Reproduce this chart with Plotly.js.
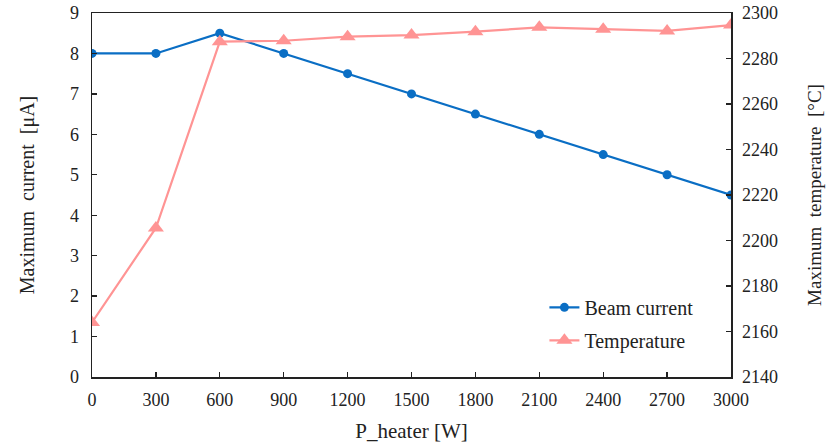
<!DOCTYPE html>
<html>
<head>
<meta charset="utf-8">
<script src="https://cdn.plot.ly/plotly-3.0.1.min.js"></script>
<style>html,body{margin:0;padding:0;background:#fff;}#chart{width:829px;height:444px;}</style>
</head>
<body>
<div id="chart"></div>
<script>
const pHeater = [0, 300, 600, 900, 1200, 1500, 1800, 2100, 2400, 2700, 3000];
const beamCurrent = [8, 8, 8.5, 8, 7.5, 7, 6.5, 6, 5.5, 5, 4.5];
const temperature = [2164, 2205.5, 2287.4, 2287.8, 2289.6, 2290.3, 2291.8, 2293.7, 2292.9, 2292.1, 2294.7];
const xTicks = [0, 300, 600, 900, 1200, 1500, 1800, 2100, 2400, 2700, 3000];

const FAMILY = 'Liberation Serif';
const f = (s) => ({family: FAMILY, size: s, color: '#222'});

const traces = [
  {
    x: pHeater, y: beamCurrent, name: 'Beam current', type: 'scatter', mode: 'lines+markers',
    legendgroup: 'a',
    line: {color: '#0A6EC4', width: 2.2},
    marker: {color: '#0A6EC4', size: 9, symbol: 'circle'},
    yaxis: 'y'
  },
  {
    x: pHeater, y: temperature, name: 'Temperature', type: 'scatter', mode: 'lines+markers',
    legendgroup: 'b',
    line: {color: '#FF9494', width: 2.2},
    marker: {color: '#FF9494', size: 14, symbol: 'triangle-up'},
    yaxis: 'y2'
  }
];

function axis(extra) {
  return Object.assign({
    showgrid: false, zeroline: false, showline: true, linecolor: '#222', linewidth: 1.5,
    ticks: 'inside', ticklen: 5, tickwidth: 1.3, tickcolor: '#222',
    tickfont: f(18), ticklabelstandoff: 8
  }, extra);
}

const layout = {
  width: 829, height: 444,
  margin: {l: 92, r: 98, t: 13, b: 67},
  paper_bgcolor: '#fff', plot_bgcolor: '#fff',
  font: f(18),
  showlegend: true,
  legend: {x: 0.708, y: 0.245, xanchor: 'left', yanchor: 'top', bgcolor: 'rgba(0,0,0,0)',
           font: f(20), tracegroupgap: 4},
  xaxis: axis({
    range: [0, 3000], tickvals: xTicks, ticktext: xTicks.map(String), mirror: true,
    ticklabelstandoff: 6,
    title: {text: 'P_heater [W]', font: f(21), standoff: 14}
  }),
  yaxis: axis({
    range: [0, 9], dtick: 1, tick0: 0,
    title: {text: 'Maximum\u00A0 current\u00A0 [μA]', font: f(20), standoff: 30}
  }),
  yaxis2: axis({
    range: [2140, 2300], dtick: 20, tick0: 2140, overlaying: 'y', side: 'right',
    ticklabelstandoff: 6,
    title: {text: 'Maximum\u00A0 temperature\u00A0 [°C]', font: f(19), standoff: 30}
  })
};

Plotly.newPlot('chart', traces, layout, {displayModeBar: false, staticPlot: true});
</script>
</body>
</html>
